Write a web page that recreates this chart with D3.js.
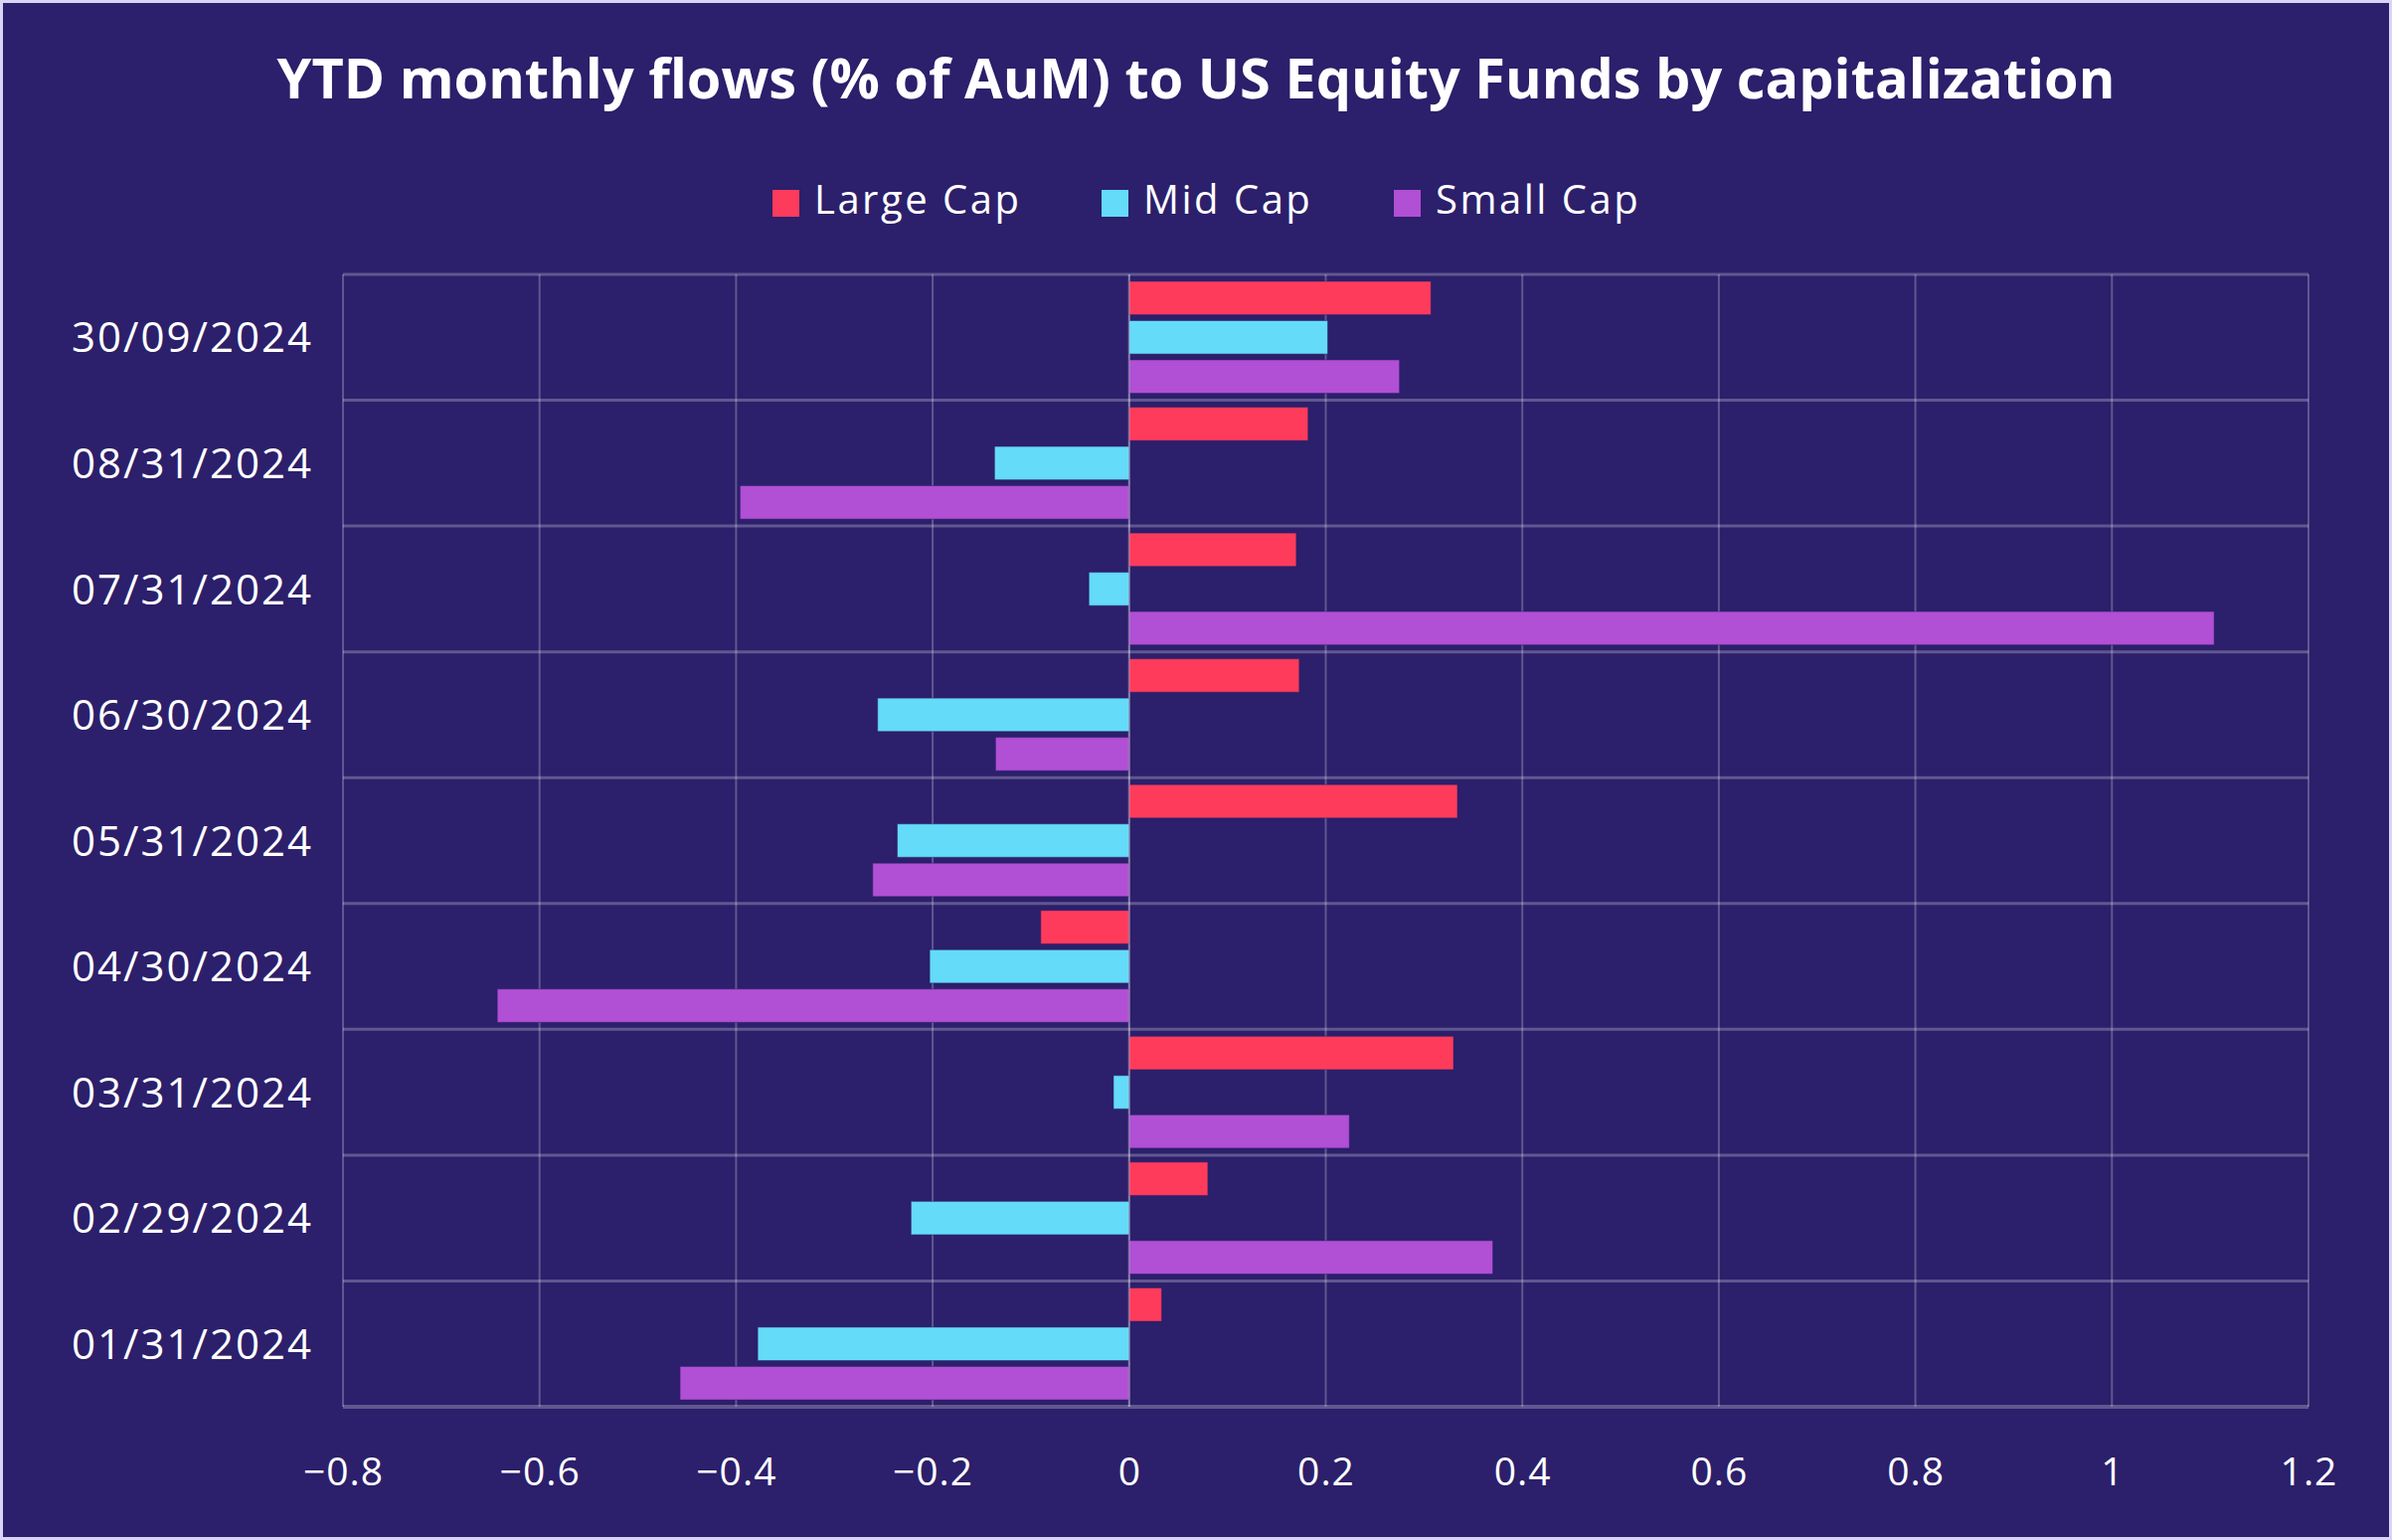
<!DOCTYPE html>
<html>
<head>
<meta charset="utf-8">
<script src="https://cdn.jsdelivr.net/npm/d3@7"></script>
<style>
  html, body { margin: 0; padding: 0; background: #d9d4f5; }
  svg { display: block; }
</style>
</head>
<body>
<svg id="chart" width="2406" height="1549"></svg>
<script>
// ---- data ----
const categories = ["30/09/2024", "08/31/2024", "07/31/2024", "06/30/2024", "05/31/2024",
                    "04/30/2024", "03/31/2024", "02/29/2024", "01/31/2024"];
const seriesNames = ["Large Cap", "Mid Cap", "Small Cap"];
const largeCap = [0.307, 0.182, 0.170, 0.173, 0.334, -0.090, 0.330, 0.080, 0.033];
const midCap   = [0.202, -0.137, -0.041, -0.256, -0.236, -0.203, -0.016, -0.222, -0.378];
const smallCap = [0.275, -0.396, 1.104, -0.136, -0.261, -0.643, 0.224, 0.370, -0.457];
const xTicks = [-0.8, -0.6, -0.4, -0.2, 0, 0.2, 0.4, 0.6, 0.8, 1, 1.2];
const colors = ["#ff3b5c", "#64dbf8", "#b14fd5"];
const title = "YTD monthly flows (% of AuM) to US Equity Funds by capitalization";

const seriesValues = [largeCap, midCap, smallCap];
const rows = categories.map((c, i) => ({
  cat: c,
  vals: seriesNames.map((s, j) => ({ key: s, value: seriesValues[j][i], color: colors[j] }))
}));

const W = 2406, H = 1549;
const svg = d3.select("#chart");
const FONT = "'Open Sans', 'Noto Sans', sans-serif";

// background with border
svg.append("rect").attr("x", 0).attr("y", 0).attr("width", W).attr("height", H).attr("fill", "#d9d4f5");
svg.append("rect").attr("x", 3).attr("y", 3).attr("width", W - 6).attr("height", H - 6).attr("fill", "#2c1f6b");

const plot = { left: 345, right: 2322, top: 276, bottom: 1415 };

const x = d3.scaleLinear().domain([-0.8, 1.2]).range([plot.left, plot.right]);
const y0 = d3.scaleBand().domain(categories).range([plot.top, plot.bottom]).paddingInner(0).paddingOuter(0);
const bw = y0.bandwidth();
const y1 = d3.scaleBand().domain(seriesNames).range([7, bw - 7]).paddingInner(0.15).paddingOuter(0);

const gridColor = "rgba(255,255,255,0.25)";

// vertical grid
const g = svg.append("g");
g.append("g").selectAll("line").data(xTicks).join("line")
  .attr("x1", d => x(d)).attr("x2", d => x(d))
  .attr("y1", plot.top).attr("y2", plot.bottom)
  .attr("stroke", gridColor).attr("stroke-width", 2);

// horizontal grid at band boundaries
const bounds = categories.map(c => y0(c)).concat([plot.bottom]);
g.append("g").selectAll("line").data(bounds).join("line")
  .attr("x1", plot.left).attr("x2", plot.right)
  .attr("y1", d => d).attr("y2", d => d)
  .attr("stroke", gridColor).attr("stroke-width", (d, i) => i === bounds.length - 1 ? 4 : 3);

// bars
const groups = svg.append("g").selectAll("g").data(rows).join("g")
  .attr("transform", d => `translate(0,${y0(d.cat)})`);
groups.selectAll("rect").data(d => d.vals).join("rect")
  .attr("x", d => x(Math.min(0, d.value)))
  .attr("width", d => Math.abs(x(d.value) - x(0)))
  .attr("y", d => y1(d.key))
  .attr("height", y1.bandwidth())
  .attr("fill", d => d.color)
  .attr("stroke", "rgba(44,31,107,0.5)")
  .attr("stroke-width", 1);

// zero line
svg.append("line").attr("x1", x(0)).attr("x2", x(0)).attr("y1", plot.top).attr("y2", plot.bottom)
  .attr("stroke", gridColor).attr("stroke-width", 2);

// x axis
const xAxis = d3.axisBottom(x).tickValues(xTicks).tickSize(0).tickPadding(0)
  .tickFormat(d => d3.format("")(d));
const xg = svg.append("g").attr("transform", `translate(0,${plot.bottom})`).call(xAxis);
xg.select(".domain").remove();
xg.selectAll("text").attr("fill", "#ffffff").attr("font-family", FONT)
  .attr("font-size", 39).attr("letter-spacing", 1).attr("dy", 0).attr("y", 79);

// y axis
const yAxis = d3.axisLeft(y0).tickSize(0).tickPadding(0);
const yg = svg.append("g").attr("transform", `translate(315,0)`).call(yAxis);
yg.select(".domain").remove();
yg.selectAll("text").attr("fill", "#ffffff").attr("font-family", FONT)
  .attr("font-size", 42).attr("letter-spacing", 2).attr("dy", "0.36em");

// title
const t = svg.append("text").attr("x", W / 2).attr("y", 99).attr("text-anchor", "middle")
  .attr("fill", "#ffffff").attr("font-family", FONT).attr("font-weight", 700)
  .attr("font-size", 52).text(title);
const tw = t.node().getComputedTextLength();
t.attr("font-size", 52 * 1849 / tw);

// legend
const legendX = [777, 1108, 1402];
const leg = svg.append("g").selectAll("g").data(seriesNames).join("g")
  .attr("transform", (d, i) => `translate(${legendX[i]},0)`);
leg.append("rect").attr("x", 0).attr("y", 191).attr("width", 27).attr("height", 27)
  .attr("fill", (d, i) => colors[i]);
leg.append("text").attr("x", 42).attr("y", 215).attr("fill", "#ffffff")
  .attr("font-family", FONT).attr("font-size", 40).attr("letter-spacing", 2.5).text(d => d);
</script>
</body>
</html>
